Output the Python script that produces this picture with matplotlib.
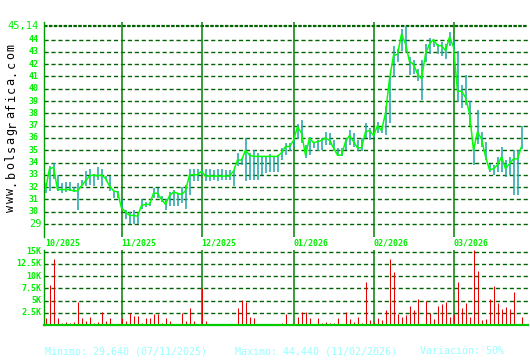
import matplotlib
matplotlib.use("Agg")
import matplotlib.pyplot as plt

# cierre / maximo / minimo diarios (120 sesiones)
close = [
    31.8, 33.5, 33.6, 31.8, 31.8, 31.8, 31.8, 31.7, 31.7, 32.1,
    32.5, 32.9, 33.0, 32.9, 33.0, 32.7, 32.1, 31.7, 31.6, 30.3,
    30.0, 29.7, 29.7, 29.64, 30.5, 30.6, 30.6, 31.5, 31.5, 31.0,
    30.6, 31.3, 31.6, 31.5, 31.4, 31.7, 33.0, 33.0, 33.0, 33.3,
    32.9, 32.9, 32.9, 32.9, 32.9, 32.9, 32.9, 33.3, 34.2, 34.2,
    35.0, 34.6, 34.5, 34.5, 34.5, 34.5, 34.5, 34.5, 34.5, 34.8,
    35.3, 35.3, 35.8, 36.9, 36.4, 34.6, 36.0, 35.6, 35.7, 35.8,
    36.0, 35.8, 35.2, 34.6, 34.6, 35.7, 36.2, 35.7, 35.2, 35.2,
    36.5, 36.6, 36.2, 37.0, 36.6, 38.0, 40.8, 42.7, 42.8, 44.44,
    43.65, 42.2, 42.0, 41.2, 40.8, 42.8, 43.65, 44.0, 43.5, 43.5,
    43.1, 44.2, 43.4, 39.8, 39.8, 39.3, 38.0, 35.0, 36.5, 35.9,
    34.5, 33.4, 33.5, 33.8, 34.45, 33.5, 33.9, 34.3, 34.3, 35.3,
]
high = [
    32.3, 33.7, 34.0, 33.0, 32.3, 32.4, 32.4, 32.0, 32.3, 32.6,
    33.3, 33.5, 33.1, 33.6, 33.5, 32.9, 32.9, 31.7, 31.7, 31.0,
    30.1, 30.0, 30.1, 30.0, 31.0, 30.8, 30.8, 31.9, 31.9, 31.3,
    31.0, 31.6, 31.8, 31.5, 32.0, 32.2, 33.5, 33.5, 33.5, 33.4,
    33.5, 33.5, 33.4, 33.5, 33.5, 33.4, 33.4, 33.4, 34.8, 34.4,
    36.0, 34.8, 35.0, 34.8, 34.5, 34.5, 34.7, 34.5, 34.6, 35.2,
    35.6, 35.6, 36.0, 37.1, 37.45, 35.4, 36.1, 35.7, 35.85, 36.0,
    36.5, 36.4, 35.85, 35.2, 35.2, 36.0, 36.65, 36.4, 35.85, 36.0,
    37.2, 36.8, 36.5, 37.3, 37.0, 38.6, 41.0, 43.5, 43.25, 44.86,
    45.14, 42.6, 42.3, 41.6, 42.3, 43.6, 44.1, 44.0, 43.65, 43.8,
    43.65, 44.6, 44.0, 43.1, 40.3, 41.1, 39.0, 35.3, 38.3, 36.5,
    35.65, 33.9, 33.8, 34.45, 35.3, 34.2, 34.45, 35.0, 35.0, 37.0,
]
low = [
    31.5, 31.7, 32.7, 31.7, 31.5, 31.6, 31.7, 31.6, 30.1, 32.1,
    32.1, 32.2, 32.1, 32.6, 32.1, 32.6, 31.7, 31.1, 31.1, 30.3,
    29.4, 29.0, 29.0, 29.0, 30.2, 30.4, 30.5, 31.1, 31.1, 30.8,
    30.1, 30.5, 30.5, 30.5, 30.7, 30.2, 31.4, 32.5, 32.5, 33.0,
    32.5, 32.5, 32.6, 32.5, 32.6, 32.6, 32.6, 32.1, 33.7, 33.8,
    32.5, 32.6, 32.6, 32.6, 33.0, 33.15, 33.2, 33.2, 33.2, 34.2,
    34.6, 34.9, 35.3, 35.9, 35.6, 34.4, 34.6, 35.2, 34.9, 35.0,
    35.4, 35.4, 35.0, 34.5, 34.5, 35.0, 35.4, 35.3, 34.9, 34.9,
    36.0, 35.85, 36.0, 36.4, 36.4, 36.2, 37.2, 40.97, 42.2, 43.1,
    43.0, 41.1, 41.2, 40.6, 39.1, 42.2, 42.85, 43.4, 42.85, 42.7,
    42.45, 43.5, 43.0, 38.9, 38.4, 38.7, 37.0, 33.8, 35.5, 35.3,
    34.2, 33.2, 33.0, 33.2, 33.2, 32.8, 32.97, 31.35, 31.35, 35.1,
]
# volumen en miles
volume = [
    1.4, 8.1, 13.5, 1.4, 0.4, 0.6, 0.4, 0.6, 4.7, 1.5,
    0.9, 1.7, 0.4, 0.6, 2.6, 0.8, 1.5, 0.1, 0.05, 1.5,
    0.8, 2.4, 1.75, 1.75, 0.4, 1.35, 1.35, 2.2, 2.2, 0.4,
    1.5, 0.9, 0.1, 0.1, 2.5, 0.9, 3.4, 0.9, 0.1, 7.5,
    0.9, 0.1, 0.15, 0.15, 0.15, 0.05, 0.05, 0.15, 3.4, 5.2,
    4.7, 1.7, 1.5, 0.3, 0.3, 0.15, 0.15, 0.15, 0.15, 0.5,
    2.3, 0.3, 0.35, 1.7, 2.7, 2.7, 1.4, 0.3, 1.5, 0.5,
    0.7, 0.5, 0.5, 1.5, 0.05, 2.7, 1.3, 0.7, 1.7, 0.5,
    8.7, 1.1, 0.7, 1.5, 1.1, 3.0, 13.6, 10.8, 2.3, 1.7,
    2.1, 3.8, 3.0, 5.4, 0.3, 5.0, 2.5, 1.3, 3.8, 4.4,
    4.8, 1.7, 2.3, 8.9, 3.4, 4.6, 1.7, 15.3, 11.0, 1.1,
    1.3, 5.4, 7.9, 4.6, 3.2, 3.6, 3.2, 6.7, 0.05, 1.7,
]

month_idx = [0, 19, 39, 62, 82, 102]
month_labels = ["10/2025", "11/2025", "12/2025", "01/2026", "02/2026", "03/2026"]
price_ticks = list(range(29, 45))
price_max = 45.14
vol_ticks = [2.5, 5, 7.5, 10, 12.5, 15]
vol_labels = ["2.5K", "5K", "7.5K", "10K", "12.5K", "15K"]

GRID = "#006400"
VLINE = "#008000"
LIME = "#00ee00"
MONO = "DejaVu Sans Mono"

W, H = 530, 360
fig = plt.figure(figsize=(W / 100, H / 100), dpi=100)
fig.patch.set_facecolor("white")

x = list(range(len(close)))
# cada sesion cae en el centro de un pixel (4 px por sesion)
xlim = (-0.375, 120.625)

# panel de precios
ax = fig.add_axes([44 / W, 1 - 237 / H, 484 / W, 215 / H])
ax.set_xlim(*xlim)
ax.set_ylim(27.945, 45.425)
for v in price_ticks:
    ax.axhline(v, color=GRID, lw=1.0, ls=(0, (3, 2)), zorder=1)
ax.axhline(price_max, color=GRID, lw=1.6, ls=(0, (1.6, 0.6)), zorder=1)
for m in month_idx[1:]:
    ax.axvline(m, color=VLINE, lw=1.1, zorder=2)
ax.vlines(x, low, high, color="#1fa3a8", lw=1.1, zorder=3)
ax.plot(x, close, color="#00ff00", lw=1.1, zorder=4)

tr = ax.get_yaxis_transform()
for v in price_ticks[1:]:
    ax.text(-0.0105, v, str(v), transform=tr, ha="right", va="center",
            color=LIME, fontsize=6, fontweight="bold", family=MONO)
ax.text(-0.005, price_ticks[0], str(price_ticks[0]), transform=tr, ha="right",
        va="center", color=LIME, fontsize=7.5, family=MONO)
ax.text(-0.0105, price_max, f"{price_max:.2f}".replace(".", ","), transform=tr,
        ha="right", va="center", color=LIME, fontsize=7.5, family=MONO)

xt = ax.get_xaxis_transform()
for m, lab in zip(month_idx, month_labels):
    ax.text(m - 0.1, -0.028, lab, transform=xt, ha="left", va="center",
            color=LIME, fontsize=6, fontweight="bold", family=MONO)

ax.set_xticks([])
ax.set_yticks([])
for s in ("top", "right", "bottom"):
    ax.spines[s].set_visible(False)
ax.spines["left"].set_color("#009900")
ax.spines["left"].set_linewidth(1.0)

# panel de volumen
av = fig.add_axes([44 / W, 1 - 325 / H, 484 / W, 75 / H])
av.set_xlim(*xlim)
av.set_ylim(0, 15.35)
for v in vol_ticks:
    av.axhline(v, color=GRID, lw=1.0, ls=(0, (3, 2)), zorder=1)
for m in month_idx[1:]:
    av.axvline(m, color=VLINE, lw=1.1, zorder=2)
av.vlines(x, 0, volume, color="#e60000", lw=0.75, zorder=3)
av.axhline(0, color="#00cc00", lw=1.6, zorder=4, clip_on=False)

trv = av.get_yaxis_transform()
for v, lab in zip(vol_ticks, vol_labels):
    av.text(-0.005, v, lab, transform=trv, ha="right", va="center",
            color=LIME, fontsize=6, fontweight="bold", family=MONO)
av.set_xticks([])
av.set_yticks([])
for s in ("top", "right", "bottom"):
    av.spines[s].set_visible(False)
av.spines["left"].set_color("#009900")
av.spines["left"].set_linewidth(1.0)

# marca de agua vertical
site = "www.bolsagrafica.com"
for k, ch in enumerate(site):
    fig.text(17.5 / W, 1 - (208 - k * 8.47) / H, ch, rotation=90,
             ha="right", va="center", color="black", fontsize=8.5, family=MONO)

# pie con minimo / maximo / variacion
foot = "#99ffff"
fig.text(45 / W, 1 - 351 / H, "Minimo: 29,640 (07/11/2025)", color=foot,
         fontsize=7.2, family=MONO, va="center")
fig.text(235 / W, 1 - 351 / H, "Maximo: 44,440 (11/02/2026)", color=foot,
         fontsize=7.2, family=MONO, va="center")
fig.text(420 / W, 1 - 351 / H, "Variación: 50%", color=foot,
         fontsize=7.2, family=MONO, va="center")

fig.savefig("out.png", dpi=100, facecolor="white")
